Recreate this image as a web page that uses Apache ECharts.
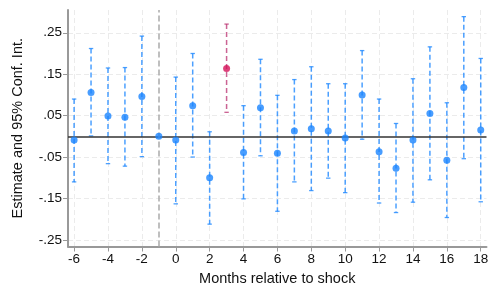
<!DOCTYPE html>
<html><head><meta charset="utf-8">
<script src="https://cdn.jsdelivr.net/npm/echarts@6/dist/echarts.min.js"></script>
<style>html,body{margin:0;padding:0;background:#fff}#c{width:498px;height:299px}</style>
</head><body><div id="c"></div>
<script>
const months   = [-6, -5, -4, -3, -2, -1, 0, 1, 2, 3, 4, 5, 6, 7, 8, 9, 10, 11, 12, 13, 14, 15, 16, 17, 18];
const estimate = [-0.009, 0.106, 0.049, 0.046, 0.096, 0.0, -0.009, 0.074, -0.100, 0.164, -0.039, 0.069, -0.041, 0.013, 0.018, 0.013, -0.004, 0.100, -0.037, -0.077, -0.009, 0.055, -0.058, 0.118, 0.015];
const ciLow    = [-0.110, 0.001, -0.066, -0.072, -0.049, null, -0.163, -0.050, -0.212, 0.058, -0.151, -0.047, -0.181, -0.110, -0.131, -0.101, -0.136, -0.007, -0.161, -0.184, -0.159, -0.105, -0.196, -0.054, -0.158];
const ciHigh   = [0.090, 0.212, 0.165, 0.166, 0.242, null, 0.143, 0.200, 0.011, 0.271, 0.074, 0.186, 0.099, 0.137, 0.168, 0.127, 0.127, 0.207, 0.090, 0.031, 0.139, 0.216, 0.081, 0.289, 0.188];
const highlightMonth = 3;
const referenceMonth = -1;
const xTicks = [-6, -4, -2, 0, 2, 4, 6, 8, 10, 12, 14, 16, 18];
const yTicks = [-0.25, -0.15, -0.05, 0.05, 0.15, 0.25];
const yTickLabels = ['-.25', '-.15', '-.05', '.05', '.15', '.25'];

const BLUE = '#1a85ff', BLUE_CI = 'rgba(26,133,255,0.78)';
const RED = '#d41159', RED_CI = 'rgba(190,60,120,0.8)';
const FONT = 'Liberation Sans, Arial, sans-serif';

const ciData = [];
const ptData = [];
months.forEach((m, i) => {
  if (ciLow[i] !== null) ciData.push([m, ciLow[i], ciHigh[i], m === highlightMonth ? 1 : 0]);
  ptData.push({value: [m, estimate[i]], itemStyle: {color: m === highlightMonth ? RED : BLUE}});
});

const chart = echarts.init(document.getElementById('c'), null, {renderer: 'canvas'});
chart.setOption({
  animation: false,
  backgroundColor: '#fff',
  grid: {left: 68, right: 11.5, top: 10, bottom: 52.5, containLabel: false},
  xAxis: {
    type: 'value', min: -6.36, max: 18.34,
    name: 'Months relative to shock', nameLocation: 'middle', nameGap: 21,
    nameTextStyle: {fontFamily: FONT, fontSize: 14.5, color: '#111'},
    axisLine: {show: true, onZero: false, lineStyle: {color: '#999', width: 2}},
    axisTick: {show: true, length: 5, customValues: xTicks, lineStyle: {color: '#999', width: 1}},
    axisLabel: {customValues: xTicks, margin: 6, fontFamily: FONT, fontSize: 13.5, color: '#111'},
    splitLine: {show: true, lineStyle: {color: '#ebebeb', width: 1, type: [5, 3]}}
  },
  yAxis: {
    type: 'value', min: -0.266, max: 0.305,
    name: 'Estimate and 95% Conf. Int.', nameLocation: 'middle', nameGap: 43, nameRotate: 90,
    nameTextStyle: {fontFamily: FONT, fontSize: 14.5, color: '#111'},
    axisLine: {show: true, onZero: false, lineStyle: {color: '#999', width: 2}},
    axisTick: {show: true, length: 5, customValues: yTicks, lineStyle: {color: '#999', width: 1}},
    axisLabel: {customValues: yTicks, margin: 6, fontFamily: FONT, fontSize: 13.5, color: '#111',
      formatter: v => { const k = yTicks.findIndex(t => Math.abs(t - v) < 1e-9); return k >= 0 ? yTickLabels[k] : ''; }},
    splitLine: {show: true, lineStyle: {color: '#ebebeb', width: 1, type: [5, 3]}}
  },
  series: [
    {
      type: 'custom', z: 3, data: ciData, silent: true,
      renderItem: (params, api) => {
        const x = api.value(0), lo = api.value(1), hi = api.value(2), hl = api.value(3);
        const pTop = api.coord([x, hi]), pBot = api.coord([x, lo]);
        const col = hl ? RED_CI : BLUE_CI;
        const cw = 2.2;
        return {type: 'group', children: [
          {type: 'line', shape: {x1: pTop[0], y1: pTop[1], x2: pBot[0], y2: pBot[1]}, style: {stroke: col, lineWidth: 1.5, lineDash: [5, 3]}},
          {type: 'line', shape: {x1: pTop[0] - cw, y1: pTop[1], x2: pTop[0] + cw, y2: pTop[1]}, style: {stroke: col, lineWidth: 1.3}},
          {type: 'line', shape: {x1: pBot[0] - cw, y1: pBot[1], x2: pBot[0] + cw, y2: pBot[1]}, style: {stroke: col, lineWidth: 1.3}}
        ]};
      }
    },
    {
      type: 'scatter', z: 5, symbol: 'circle', symbolSize: 7, data: ptData,
      markLine: {
        silent: true, symbol: ['none', 'none'], label: {show: false}, z: 4,
        data: [
          {yAxis: 0, lineStyle: {color: '#333', width: 1.5, type: 'solid'}},
          {xAxis: referenceMonth, lineStyle: {color: '#aaa', width: 1.5, type: [6, 3]}}
        ]
      }
    }
  ]
});
</script></body></html>
